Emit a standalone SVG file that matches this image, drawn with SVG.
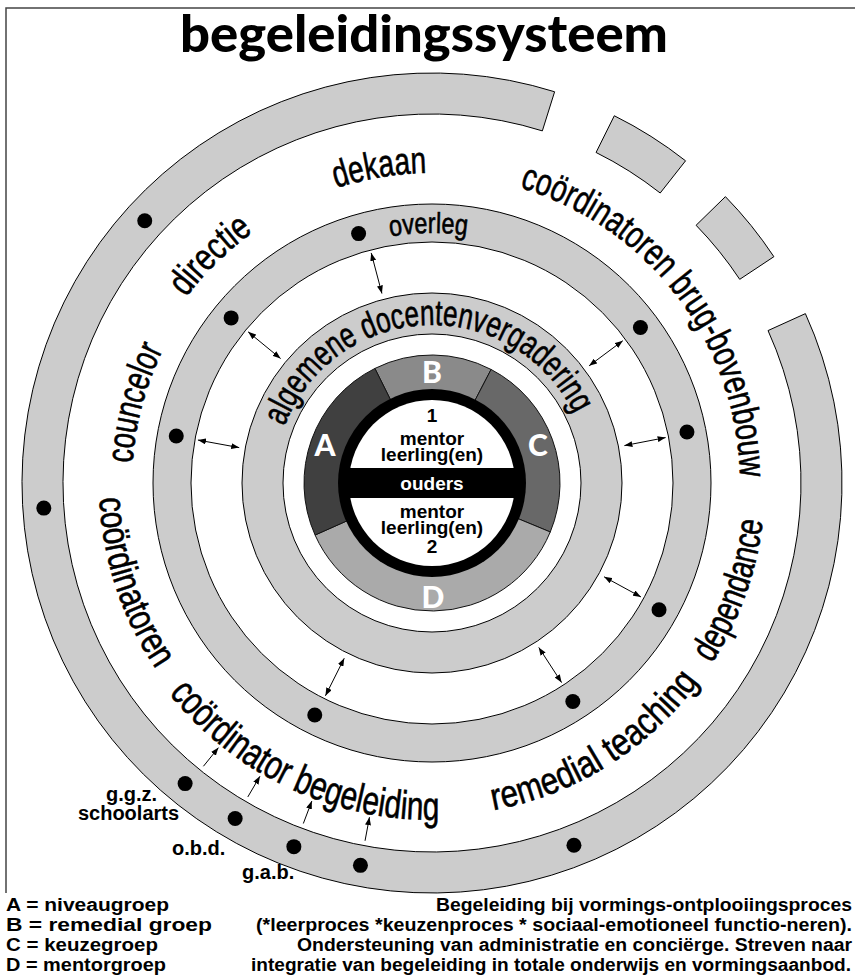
<svg xmlns="http://www.w3.org/2000/svg" xmlns:xlink="http://www.w3.org/1999/xlink" width="855" height="980" viewBox="0 0 855 980">
<style>
.ring{fill:#cccccc;stroke:#000;stroke-width:1}
.hole{fill:#fff;stroke:#000;stroke-width:1}
.seg{stroke:#111;stroke-width:1}
.dot{fill:#000}
.lbl{font-family:'Liberation Sans Narrow','Liberation Sans',Arial,sans-serif;fill:#000;stroke:#000;stroke-width:0.6}
.b{font-family:'Liberation Sans',Arial,sans-serif;font-weight:bold;fill:#000}
.ltr{font-family:Lato,'DejaVu Sans',sans-serif;font-weight:900;fill:#fff;font-size:30px;text-anchor:middle}
.in{font-family:'Liberation Sans',Arial,sans-serif;font-weight:bold;font-size:19px;text-anchor:middle}
.conn line{stroke:#000;stroke-width:1;fill:none}
.frame{stroke:#444;stroke-width:1.5;fill:none}
</style>
<defs>
<marker id="ah" viewBox="0 0 8 6" refX="8" refY="3" markerWidth="8" markerHeight="6" orient="auto-start-reverse" markerUnits="userSpaceOnUse">
<path d="M0,0 L8,3 L0,6 z" fill="#000"/>
</marker>
<path id="pAlg" d="M284.49,426.38 A158,158 0 0 1 583.88,439.45"/>
<path id="pOve" d="M390.31,236.5 A250,250 0 0 1 509.25,245.24"/>
<path id="pDek" d="M336.2,188.17 A310,310 0 0 1 485.83,177.71"/>
<path id="pCoo" d="M519.48,187.68 A308,308 0 0 1 735.32,536.48"/>
<path id="pDir" d="M186.02,297.64 A308,308 0 0 1 301.83,203.86"/>
<path id="pCou" d="M132.66,463.12 A300,300 0 0 1 186.25,310.93"/>
<path id="pCol" d="M99.34,498.1 A333,333 0 0 0 196.53,718.47"/>
<path id="pBeg" d="M168.75,693.4 A337,337 0 0 0 502.07,812.64"/>
<path id="pRem" d="M493.26,810.32 A333,333 0 0 0 733.8,623.73"/>
<path id="pDep" d="M711.91,663.39 A333,333 0 0 0 763.73,453.98"/>
</defs>
<rect width="855" height="980" fill="#fff"/>
<path class="frame" d="M6,893 L6,8 L855,8"/>
<g id="title"><text x="180" y="52" font-family="Lato,'DejaVu Sans',sans-serif" font-weight="900" font-size="52" textLength="488" lengthAdjust="spacingAndGlyphs">begeleidingssysteem</text></g>

<g id="outer-ring">
<path class="ring" d="M805.38,313.63 A410,410 0 1 1 554.61,91.76 L542.35,130.89 A369,369 0 1 0 768.04,330.57 Z"/>
<path class="ring" d="M614.30,115.76 A410,410 0 0 1 685.55,160.80 L660.19,193.02 A369,369 0 0 0 596.07,152.48 Z"/>
<path class="ring" d="M725.43,196.65 A410,410 0 0 1 773.89,256.70 L739.71,279.33 A369,369 0 0 0 696.09,225.28 Z"/>
</g>
<g id="overleg-ring">
<circle class="ring" cx="432" cy="483" r="279"/>
<circle class="hole" cx="432" cy="483" r="241"/>
</g>
<g id="docentenvergadering-ring">
<circle class="ring" cx="432" cy="483" r="190"/>
<circle class="hole" cx="432" cy="483" r="149"/>
</g>
<g id="groups">
<path id="segB" class="seg" fill="#8a8a8a" d="M432,483 L374.89,368.45 A128,128 0 0 1 491.10,369.46 Z"/>
<path id="segC" class="seg" fill="#686868" d="M432,483 L491.10,369.46 A128,128 0 0 1 550.26,531.98 Z"/>
<path id="segD" class="seg" fill="#aaaaaa" d="M432,483 L550.26,531.98 A128,128 0 0 1 315.07,535.06 Z"/>
<path id="segA" class="seg" fill="#404040" d="M432,483 L315.07,535.06 A128,128 0 0 1 374.89,368.45 Z"/>
<text class="ltr" x="432" y="383">B</text>
<text class="ltr" x="325" y="456">A</text>
<text class="ltr" x="538" y="456">C</text>
<text class="ltr" x="433" y="608">D</text>
</g>
<g id="core">
<circle cx="432" cy="483" r="94" fill="#000"/>
<circle cx="432" cy="483" r="83" fill="#fff"/>
<rect x="345" y="468" width="174" height="30" fill="#000"/>
<text class="in" x="432" y="422">1</text>
<text class="in" x="432" y="445">mentor</text>
<text class="in" x="432" y="461">leerling(en)</text>
<text class="in" x="432" y="490" fill="#fff" font-size="20">ouders</text>
<text class="in" x="432" y="518">mentor</text>
<text class="in" x="432" y="534">leerling(en)</text>
<text class="in" x="432" y="553">2</text>
</g>

<g id="dots">
<circle class="dot" cx="43.81" cy="508.10" r="7.5"/>
<circle class="dot" cx="144.74" cy="220.70" r="7.5"/>
<circle class="dot" cx="185.11" cy="783.61" r="7.5"/>
<circle class="dot" cx="235.15" cy="818.52" r="7.5"/>
<circle class="dot" cx="293.86" cy="846.65" r="7.5"/>
<circle class="dot" cx="360.44" cy="865.36" r="7.5"/>
<circle class="dot" cx="573.94" cy="845.18" r="7.5"/>
<circle class="dot" cx="358.59" cy="233.58" r="7.5"/>
<circle class="dot" cx="231.15" cy="317.89" r="7.5"/>
<circle class="dot" cx="176.27" cy="436.06" r="7.5"/>
<circle class="dot" cx="314.77" cy="715.07" r="7.5"/>
<circle class="dot" cx="572.84" cy="701.55" r="7.5"/>
<circle class="dot" cx="659.03" cy="609.71" r="7.5"/>
<circle class="dot" cx="686.96" cy="432.05" r="7.5"/>
<circle class="dot" cx="640.42" cy="327.56" r="7.5"/>
</g>

<g id="connectors" class="conn">
<line x1="381.93" y1="293.50" x2="371.20" y2="252.90" marker-start="url(#ah)" marker-end="url(#ah)"/>
<line x1="280.59" y1="358.54" x2="248.14" y2="331.87" marker-start="url(#ah)" marker-end="url(#ah)"/>
<line x1="239.22" y1="447.62" x2="197.91" y2="440.04" marker-start="url(#ah)" marker-end="url(#ah)"/>
<line x1="344.24" y1="658.25" x2="325.43" y2="695.81" marker-start="url(#ah)" marker-end="url(#ah)"/>
<line x1="589.12" y1="365.82" x2="622.79" y2="340.71" marker-start="url(#ah)" marker-end="url(#ah)"/>
<line x1="624.40" y1="445.60" x2="665.63" y2="437.59" marker-start="url(#ah)" marker-end="url(#ah)"/>
<line x1="604.08" y1="576.82" x2="640.96" y2="596.93" marker-start="url(#ah)" marker-end="url(#ah)"/>
<line x1="538.75" y1="647.38" x2="561.62" y2="682.60" marker-start="url(#ah)" marker-end="url(#ah)"/>
<line x1="203.42" y1="766.28" x2="218.49" y2="747.60" marker-end="url(#ah)"/>
<line x1="247.80" y1="796.95" x2="259.95" y2="776.25" marker-end="url(#ah)"/>
<line x1="303.34" y1="823.50" x2="311.82" y2="801.05" marker-end="url(#ah)"/>
<line x1="365.04" y1="840.79" x2="369.46" y2="817.20" marker-end="url(#ah)"/>
</g>

<g id="ring-labels">
<text class="lbl" font-size="36"><textPath xlink:href="#pAlg" href="#pAlg" textLength="366.8" lengthAdjust="spacingAndGlyphs">algemene docentenvergadering</textPath></text>
<text class="lbl" font-size="29"><textPath xlink:href="#pOve" href="#pOve" textLength="76.8" lengthAdjust="spacingAndGlyphs">overleg</textPath></text>
<text class="lbl" font-size="38"><textPath xlink:href="#pDek" href="#pDek" textLength="92" lengthAdjust="spacingAndGlyphs">dekaan</textPath></text>
<text class="lbl" font-size="38"><textPath xlink:href="#pCoo" href="#pCoo" textLength="389.2" lengthAdjust="spacingAndGlyphs">coördinatoren brug-bovenbouw</textPath></text>
<text class="lbl" font-size="38"><textPath xlink:href="#pDir" href="#pDir" textLength="94.1" lengthAdjust="spacingAndGlyphs">directie</textPath></text>
<text class="lbl" font-size="38"><textPath xlink:href="#pCou" href="#pCou" textLength="118.3" lengthAdjust="spacingAndGlyphs">councelor</textPath></text>
<text class="lbl" font-size="38"><textPath xlink:href="#pCol" href="#pCol" textLength="182.5" lengthAdjust="spacingAndGlyphs">coördinatoren</textPath></text>
<text class="lbl" font-size="40"><textPath xlink:href="#pBeg" href="#pBeg" textLength="309.4" lengthAdjust="spacingAndGlyphs">coördinator begeleiding</textPath></text>
<text class="lbl" font-size="38"><textPath xlink:href="#pRem" href="#pRem" textLength="248.2" lengthAdjust="spacingAndGlyphs">remedial teaching</textPath></text>
<text class="lbl" font-size="38"><textPath xlink:href="#pDep" href="#pDep" textLength="152.9" lengthAdjust="spacingAndGlyphs">dependance</textPath></text>
</g>

<g id="external-labels" class="b" font-size="20">
<text x="131.5" y="801" text-anchor="middle">g.g.z.</text>
<text x="128.5" y="820" text-anchor="middle">schoolarts</text>
<text x="172" y="855">o.b.d.</text>
<text x="242" y="879">g.a.b.</text>
</g>

<g id="legend" class="b" font-size="18">
<text x="6" y="911" textLength="163" lengthAdjust="spacingAndGlyphs">A = niveaugroep</text>
<text x="6" y="931" textLength="206" lengthAdjust="spacingAndGlyphs">B = remedial groep</text>
<text x="6" y="951" textLength="152" lengthAdjust="spacingAndGlyphs">C = keuzegroep</text>
<text x="6" y="971" textLength="160" lengthAdjust="spacingAndGlyphs">D = mentorgroep</text>
<text x="436" y="911" textLength="416" lengthAdjust="spacingAndGlyphs">Begeleiding bij vormings-ontplooiingsproces</text>
<text x="256" y="931" textLength="596" lengthAdjust="spacingAndGlyphs">(*leerproces *keuzenproces * sociaal-emotioneel functio-neren).</text>
<text x="297" y="951" textLength="555" lengthAdjust="spacingAndGlyphs">Ondersteuning van administratie en conciërge. Streven naar</text>
<text x="251" y="971" textLength="600" lengthAdjust="spacingAndGlyphs">integratie van begeleiding in totale onderwijs en vormingsaanbod.</text>
</g>
</svg>
